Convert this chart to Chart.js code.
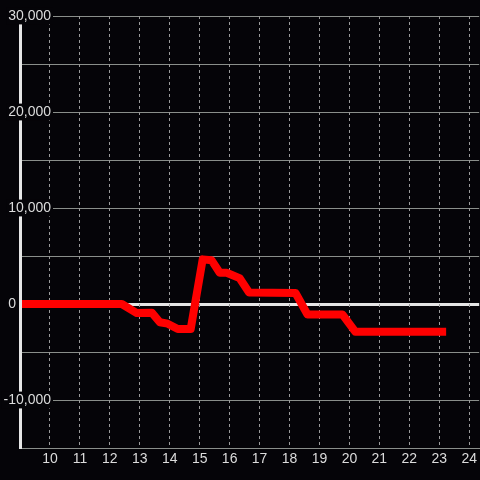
<!DOCTYPE html>
<html>
<head>
<meta charset="utf-8">
<script src="https://cdn.jsdelivr.net/npm/chart.js@4"></script>
<style>
html,body{margin:0;padding:0;background:#050408;}
#wrap{width:480px;height:480px;}
</style>
</head>
<body>
<div id="wrap"><canvas id="c" width="480" height="480"></canvas></div>
<script>
// Data
const hours = [9, 12.4, 12.9, 13.4, 13.67, 13.93, 14.27, 14.7, 15.1, 15.4, 15.67, 15.9, 16.33, 16.65, 18.2, 18.6, 19.77, 20.2, 23.23];
const values = [0, 0, -950, -900, -1900, -2050, -2600, -2600, 4650, 4550, 3250, 3250, 2700, 1200, 1150, -1100, -1100, -2900, -2900];
const xTicks = [10, 11, 12, 13, 14, 15, 16, 17, 18, 19, 20, 21, 22, 23, 24];
const yLabeled = [-10000, 0, 10000, 20000, 30000];

const BG = '#050408';
const TXT = '#dcdcdc';
const GRID = '#8a8e8a';
const FONT = {family: "'Liberation Sans', Arial, sans-serif", size: 14};

const points = hours.map((h, i) => ({x: h, y: values[i]}));

new Chart(document.getElementById('c'), {
  type: 'line',
  data: {
    datasets: [{
      data: points,
      borderColor: '#ff0000',
      borderWidth: 8,
      pointRadius: 0,
      tension: 0,
      borderJoinStyle: 'round',
      borderCapStyle: 'butt'
    }]
  },
  options: {
    responsive: false,
    animation: false,
    layout: {padding: {top: 16, right: 0, bottom: 0, left: 0}},
    plugins: {legend: {display: false}, tooltip: {enabled: false}},
    scales: {
      y: {
        type: 'linear',
        position: 'left',
        min: -15000,
        max: 30000,
        afterFit: s => { s.width = 20; },
        afterUpdate: s => { s._computeLabelArea = () => null; },
        ticks: {
          stepSize: 5000,
          color: TXT,
          font: FONT,
          padding: -31,
          z: 1,
          showLabelBackdrop: true,
          backdropPadding: {x: 2, y: 0},
          backdropColor: ctx => (ctx.tick && ctx.tick.value !== 0 && yLabeled.includes(ctx.tick.value)) ? BG : 'rgba(0,0,0,0)',
          callback: v => {
            if (!yLabeled.includes(v)) return '';
            if (v === 0) return '0' + '\u00a0'.repeat(9);
            return v.toLocaleString('en-US');
          }
        },
        grid: {
          drawTicks: false,
          color: ctx => (ctx.tick && ctx.tick.value === 0) ? '#e6e6e6' : GRID,
          lineWidth: ctx => (ctx.tick && ctx.tick.value === 0) ? 3 : 1
        },
        border: {display: true, color: '#e6e6e6', width: 3, z: 1}
      },
      x: {
        type: 'linear',
        position: 'bottom',
        min: 9,
        max: 24.333,
        afterBuildTicks: s => { s.ticks = xTicks.map(v => ({value: v})); },
        afterFit: s => { s.height = 32; },
        ticks: {
          color: TXT,
          font: FONT,
          padding: 3,
          maxRotation: 0,
          autoSkip: false,
          callback: v => String(v)
        },
        grid: {
          drawTicks: false,
          color: '#9a9a9a',
          lineWidth: 1
        },
        border: {display: true, color: GRID, width: 1, dash: [3, 3]}
      }
    }
  }
});
</script>
</body>
</html>
